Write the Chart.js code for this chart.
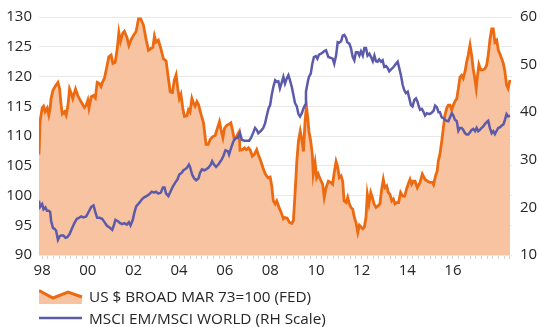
<!DOCTYPE html>
<html>
<head>
<meta charset="utf-8">
<script src="https://cdn.jsdelivr.net/npm/chart.js@4"></script>
<style>
  html, body { margin: 0; padding: 0; background: #fff; }
  #wrap { position: relative; width: 540px; height: 327px; font-family: "Open Sans", sans-serif; color: #262626; }
  #chart { position: absolute; left: 0; top: 0; }
  .lg { position: absolute; left: 39px; height: 16px; }
  .lg svg { position: absolute; left: 0; top: 0; }
  .lg span { position: absolute; left: 50px; top: -3px; font-size: 15.3px; line-height: 20px; white-space: nowrap; }
</style>
</head>
<body>
<div id="wrap">
  <canvas id="chart" width="540" height="327"></canvas>
  <div class="lg" style="top:289px">
    <svg width="44" height="16"><polygon points="0,1.5 14,9 29,3 43,8 43,15 0,15" fill="#f8c3a0"/><polyline points="0,1.5 14,9 29,3 43,8" fill="none" stroke="#ec6a10" stroke-width="3"/></svg>
    <span>US $ BROAD MAR 73=100 (FED)</span>
  </div>
  <div class="lg" style="top:311px">
    <svg width="44" height="16"><line x1="0" y1="7" x2="43" y2="7" stroke="#5c5aab" stroke-width="2.5"/></svg>
    <span>MSCI EM/MSCI WORLD (RH Scale)</span>
  </div>
</div>
<script>
// US $ broad index (left scale), decimal years
const usdDates = [1997.86, 1997.91, 1998.00, 1998.06, 1998.13, 1998.22, 1998.29, 1998.35, 1998.39, 1998.47,
  1998.58, 1998.69, 1998.76, 1998.83, 1998.88, 1998.98, 1999.05, 1999.13, 1999.20, 1999.27,
  1999.34, 1999.46, 1999.56, 1999.71, 1999.85, 1999.93, 2000.00, 2000.05, 2000.15, 2000.25,
  2000.33, 2000.41, 2000.51, 2000.58, 2000.66, 2000.73, 2000.83, 2000.92, 2001.02, 2001.10,
  2001.20, 2001.29, 2001.36, 2001.43, 2001.53, 2001.60, 2001.71, 2001.80, 2001.90, 2002.00,
  2002.12, 2002.22, 2002.32, 2002.44, 2002.56, 2002.66, 2002.76, 2002.85, 2002.92, 2002.99,
  2003.09, 2003.20, 2003.31, 2003.43, 2003.53, 2003.61, 2003.71, 2003.79, 2003.87, 2003.94,
  2004.01, 2004.08, 2004.16, 2004.23, 2004.34, 2004.41, 2004.48, 2004.56, 2004.63, 2004.70,
  2004.78, 2004.85, 2004.95, 2005.07, 2005.18, 2005.28, 2005.36, 2005.48, 2005.58, 2005.68,
  2005.77, 2005.84, 2005.92, 2005.99, 2006.09, 2006.20, 2006.27, 2006.34, 2006.42, 2006.50,
  2006.57, 2006.63, 2006.67, 2006.77, 2006.86, 2006.95, 2007.04, 2007.12, 2007.21, 2007.30,
  2007.40, 2007.47, 2007.58, 2007.67, 2007.77, 2007.89, 2007.99, 2008.06, 2008.13, 2008.21,
  2008.28, 2008.38, 2008.47, 2008.57, 2008.64, 2008.74, 2008.83, 2008.94, 2009.01, 2009.08,
  2009.16, 2009.23, 2009.31, 2009.38, 2009.45, 2009.52, 2009.58, 2009.64, 2009.69, 2009.77,
  2009.84, 2009.88, 2009.96, 2010.03, 2010.10, 2010.19, 2010.29, 2010.36, 2010.44, 2010.54,
  2010.65, 2010.73, 2010.79, 2010.88, 2010.95, 2011.02, 2011.10, 2011.17, 2011.23, 2011.32,
  2011.39, 2011.46, 2011.53, 2011.61, 2011.68, 2011.75, 2011.83, 2011.90, 2011.97, 2012.05,
  2012.12, 2012.19, 2012.25, 2012.32, 2012.40, 2012.47, 2012.54, 2012.63, 2012.73, 2012.80,
  2012.88, 2012.95, 2013.02, 2013.10, 2013.17, 2013.24, 2013.32, 2013.39, 2013.46, 2013.54,
  2013.62, 2013.71, 2013.80, 2013.89, 2013.97, 2014.04, 2014.12, 2014.19, 2014.26, 2014.34,
  2014.44, 2014.48, 2014.56, 2014.66, 2014.78, 2014.89, 2014.99, 2015.09, 2015.15, 2015.24,
  2015.31, 2015.36, 2015.43, 2015.51, 2015.58, 2015.65, 2015.73, 2015.80, 2015.87, 2015.95,
  2016.02, 2016.09, 2016.17, 2016.24, 2016.31, 2016.38, 2016.45, 2016.53, 2016.60, 2016.67,
  2016.75, 2016.82, 2016.89, 2016.97, 2017.02, 2017.08, 2017.14, 2017.22, 2017.30, 2017.40,
  2017.48, 2017.55, 2017.62, 2017.70, 2017.77, 2017.84, 2017.92, 2017.99, 2018.06, 2018.14,
  2018.21, 2018.28, 2018.35, 2018.42, 2018.50];
const usdValues = [106.9, 112.5, 114.7, 115.0, 114.1, 114.7, 113.5, 114.7, 116.3, 117.7,
  118.4, 119.0, 118.0, 115.2, 113.7, 114.1, 113.5, 115.2, 117.9, 117.2,
  116.3, 117.9, 116.8, 115.7, 114.8, 115.2, 116.0, 114.7, 116.6, 116.8,
  116.4, 119.0, 118.8, 118.3, 119.2, 119.7, 121.6, 123.3, 123.6, 122.2,
  122.4, 124.7, 127.4, 125.9, 127.3, 127.6, 126.6, 125.2, 126.2, 126.9,
  127.6, 129.7, 129.7, 128.6, 126.1, 124.4, 124.7, 124.9, 126.8, 125.8,
  126.1, 124.7, 123.0, 122.6, 119.7, 117.4, 117.3, 119.4, 120.3, 118.0,
  116.3, 117.0, 114.7, 113.3, 113.4, 114.4, 114.0, 116.3, 115.5, 115.0,
  115.8, 115.3, 113.8, 112.2, 108.6, 108.6, 109.4, 109.9, 110.1, 111.3,
  112.4, 111.0, 109.7, 111.3, 111.8, 112.0, 112.2, 111.0, 109.4, 109.7,
  110.3, 110.7, 107.6, 107.7, 108.0, 107.7, 108.0, 107.6, 106.6, 106.9,
  107.7, 106.9, 105.8, 104.7, 103.7, 103.0, 103.1, 101.6, 99.1, 98.6,
  99.1, 98.0, 97.2, 96.1, 96.3, 96.2, 95.5, 95.3, 95.8, 100.2,
  105.8, 109.1, 110.8, 109.4, 107.4, 112.4, 115.0, 113.0, 110.8, 109.1,
  106.9, 103.6, 105.5, 103.0, 103.6, 102.7, 101.9, 99.7, 101.3, 102.4,
  102.2, 101.9, 103.6, 105.7, 104.8, 103.0, 103.3, 102.4, 99.1, 98.8,
  99.7, 98.6, 98.0, 97.7, 96.3, 95.5, 93.8, 95.0, 94.7, 94.4,
  94.7, 96.3, 100.2, 98.6, 100.5, 99.7, 98.6, 98.0, 98.3, 98.6,
  101.1, 102.7, 101.3, 101.6, 100.5, 100.2, 99.1, 99.4, 98.6, 98.8,
  98.8, 100.5, 99.9, 99.9, 101.1, 101.9, 102.7, 101.9, 102.4, 102.4,
  101.3, 101.6, 102.2, 103.6, 102.7, 102.4, 102.2, 102.2, 101.8, 103.3,
  104.1, 105.8, 106.9, 109.1, 111.3, 113.5, 114.7, 115.2, 115.2, 114.4,
  115.2, 115.8, 116.3, 118.0, 119.9, 120.2, 119.7, 120.8, 122.4, 123.6,
  125.3, 123.6, 121.3, 119.4, 118.0, 120.2, 122.0, 121.1, 121.1, 121.3,
  121.9, 123.6, 126.1, 128.0, 128.0, 125.8, 126.1, 124.4, 123.8, 123.0,
  122.2, 120.8, 118.6, 118.0, 119.4];

// MSCI EM / MSCI World ratio (right scale)
const emDates = [1997.86, 1997.91, 1998.00, 1998.06, 1998.14, 1998.21, 1998.29, 1998.35, 1998.39, 1998.47,
  1998.54, 1998.61, 1998.69, 1998.76, 1998.83, 1998.93, 1999.02, 1999.10, 1999.20, 1999.30,
  1999.41, 1999.52, 1999.61, 1999.71, 1999.81, 1999.93, 2000.05, 2000.15, 2000.25, 2000.33,
  2000.41, 2000.51, 2000.63, 2000.73, 2000.83, 2000.95, 2001.07, 2001.14, 2001.21, 2001.32,
  2001.42, 2001.50, 2001.60, 2001.71, 2001.80, 2001.87, 2001.97, 2002.04, 2002.12, 2002.26,
  2002.37, 2002.47, 2002.59, 2002.70, 2002.80, 2002.91, 2002.99, 2003.09, 2003.20, 2003.29,
  2003.36, 2003.43, 2003.53, 2003.64, 2003.72, 2003.83, 2003.93, 2004.01, 2004.12, 2004.19,
  2004.26, 2004.34, 2004.43, 2004.48, 2004.57, 2004.66, 2004.75, 2004.85, 2004.92, 2005.00,
  2005.10, 2005.18, 2005.28, 2005.39, 2005.45, 2005.53, 2005.62, 2005.72, 2005.80, 2005.87,
  2005.94, 2006.03, 2006.14, 2006.19, 2006.28, 2006.38, 2006.48, 2006.57, 2006.67, 2006.75,
  2006.86, 2006.97, 2007.07, 2007.15, 2007.24, 2007.33, 2007.40, 2007.47, 2007.59, 2007.69,
  2007.77, 2007.85, 2007.92, 2007.99, 2008.06, 2008.13, 2008.21, 2008.28, 2008.35, 2008.42,
  2008.50, 2008.57, 2008.64, 2008.72, 2008.79, 2008.86, 2008.94, 2009.01, 2009.08, 2009.16,
  2009.23, 2009.30, 2009.38, 2009.45, 2009.52, 2009.56, 2009.64, 2009.69, 2009.77, 2009.84,
  2009.91, 2009.99, 2010.06, 2010.13, 2010.22, 2010.28, 2010.35, 2010.44, 2010.54, 2010.65,
  2010.73, 2010.80, 2010.88, 2010.95, 2011.02, 2011.10, 2011.17, 2011.24, 2011.32, 2011.37,
  2011.46, 2011.53, 2011.61, 2011.68, 2011.75, 2011.83, 2011.90, 2011.97, 2012.05, 2012.12,
  2012.19, 2012.26, 2012.34, 2012.41, 2012.49, 2012.56, 2012.63, 2012.70, 2012.77, 2012.85,
  2012.92, 2012.99, 2013.07, 2013.14, 2013.21, 2013.29, 2013.36, 2013.43, 2013.51, 2013.58,
  2013.65, 2013.72, 2013.80, 2013.87, 2013.94, 2014.02, 2014.09, 2014.16, 2014.23, 2014.31,
  2014.38, 2014.45, 2014.49, 2014.56, 2014.64, 2014.71, 2014.78, 2014.86, 2014.96, 2015.05,
  2015.15, 2015.22, 2015.30, 2015.37, 2015.43, 2015.51, 2015.58, 2015.65, 2015.73, 2015.80,
  2015.87, 2015.95, 2016.02, 2016.09, 2016.17, 2016.24, 2016.31, 2016.38, 2016.45, 2016.53,
  2016.60, 2016.67, 2016.75, 2016.82, 2016.89, 2016.97, 2017.04, 2017.11, 2017.18, 2017.26,
  2017.33, 2017.40, 2017.48, 2017.55, 2017.62, 2017.70, 2017.77, 2017.84, 2017.92, 2017.99,
  2018.06, 2018.14, 2018.21, 2018.28, 2018.35, 2018.42, 2018.50];
const emValues = [21.4, 20.1, 20.7, 19.6, 20.0, 19.3, 19.3, 19.0, 17.2, 15.7,
  15.5, 15.1, 13.2, 13.9, 14.1, 14.1, 13.6, 13.75, 14.4, 15.5,
  16.7, 17.6, 17.8, 18.1, 17.9, 18.1, 19.2, 20.1, 20.4, 19.0,
  17.8, 17.8, 17.6, 16.9, 16.2, 15.8, 15.3, 16.2, 17.4, 17.1,
  16.7, 16.5, 16.7, 16.4, 16.9, 16.2, 17.4, 18.9, 20.2, 21.0,
  21.7, 22.1, 22.4, 22.8, 23.3, 23.1, 23.3, 22.9, 23.1, 24.2,
  24.2, 22.9, 22.4, 23.5, 24.3, 25.2, 25.9, 26.9, 27.3, 27.8,
  28.0, 28.3, 29.0, 28.5, 26.9, 26.1, 25.7, 26.1, 27.3, 28.0,
  27.8, 28.0, 28.3, 29.0, 29.7, 29.0, 28.5, 29.0, 29.6, 30.1,
  30.8, 32.0, 31.8, 31.1, 32.5, 33.9, 34.6, 34.6, 35.6, 34.2,
  34.0, 34.0, 34.0, 34.6, 35.6, 36.7, 36.3, 35.6, 36.1, 36.7,
  37.7, 39.4, 40.8, 41.5, 43.6, 45.3, 46.7, 46.4, 46.5, 45.0,
  46.25, 47.4, 46.0, 47.1, 47.8, 46.7, 45.3, 43.6, 41.9, 41.2,
  39.6, 39.1, 39.8, 40.8, 41.5, 44.3, 46.4, 47.4, 48.1, 50.2,
  51.6, 51.8, 51.25, 52.1, 52.3, 52.5, 52.8, 53.0, 51.6, 51.4,
  51.25, 50.2, 51.9, 54.7, 54.6, 54.9, 56.1, 56.25, 55.6, 54.7,
  54.4, 53.5, 51.6, 50.9, 52.6, 52.6, 51.9, 52.8, 51.9, 53.5,
  53.5, 51.9, 52.3, 51.6, 50.7, 51.9, 50.7, 50.6, 51.1, 50.6,
  50.9, 49.5, 49.7, 49.3, 48.6, 49.0, 49.3, 49.7, 50.2, 50.6,
  49.2, 47.8, 45.7, 44.6, 44.0, 44.3, 42.9, 41.5, 41.2, 42.6,
  42.9, 42.2, 41.5, 40.5, 40.7, 40.1, 39.3, 39.8, 39.6, 39.8,
  40.3, 41.4, 41.0, 40.0, 40.0, 38.9, 38.75, 38.4, 38.2, 38.1,
  38.9, 39.8, 39.3, 38.4, 38.1, 36.1, 36.7, 36.7, 36.3, 35.6,
  35.3, 35.3, 35.8, 36.3, 36.5, 36.0, 36.7, 36.0, 36.3, 36.7,
  37.0, 37.5, 37.9, 38.2, 36.7, 35.6, 36.0, 35.4, 36.1, 36.7,
  36.8, 37.2, 37.4, 38.4, 39.6, 39.1, 39.3];

const xMin = 1997.86;
const xMax = 2018.59;
const lastLabelYear = 2016;
const leftTicks = [90, 130, 5];   // min, max, step
const rightTicks = [10, 60, 10];

const tickFont = { family: 'Open Sans', size: 15 };
const textColor = '#262626';

const ctx = document.getElementById('chart');
new Chart(ctx, {
    type: 'line',
    data: {
        datasets: [{
            label: 'MSCI EM/MSCI WORLD (RH Scale)',
            data: emDates.map((d, i) => ({ x: d, y: emValues[i] })),
            yAxisID: 'y1',
            borderColor: '#5c5aab',
            borderWidth: 2.5,
            pointRadius: 0,
            tension: 0,
            fill: false,
            order: 0
        }, {
            label: 'US $ BROAD MAR 73=100 (FED)',
            data: usdDates.map((d, i) => ({ x: d, y: usdValues[i] })),
            yAxisID: 'y',
            borderColor: '#ec6a10',
            backgroundColor: '#f8c3a0',
            borderWidth: 2.8,
            pointRadius: 0,
            tension: 0,
            fill: 'start',
            order: 1
        }]
    },
    options: {
        responsive: false,
        animation: false,
        layout: { padding: { top: 1, left: 0, right: 0, bottom: 0 } },
        plugins: { legend: { display: false }, tooltip: { enabled: false } },
        scales: {
            x: {
                type: 'linear',
                min: xMin,
                max: xMax,
                border: { display: false },
                grid: { drawOnChartArea: false, drawTicks: true, tickLength: 4, color: '#d4d4d4' },
                ticks: {
                    stepSize: 0.25,
                    includeBounds: false,
                    autoSkip: false,
                    maxRotation: 0,
                    padding: 3,
                    font: tickFont,
                    color: textColor,
                    callback: function (value) {
                        const yr = Math.round(value);
                        if (Math.abs(value - yr) > 0.01 || yr % 2 !== 0 || yr > lastLabelYear) return '';
                        return String(yr % 100).padStart(2, '0');
                    }
                },
                afterFit: function (scale) { scale.height = 72; }
            },
            y: {
                position: 'left',
                min: leftTicks[0],
                max: leftTicks[1],
                border: { display: false },
                grid: { color: '#e9e9e9', drawTicks: false },
                ticks: { stepSize: leftTicks[2], padding: 7, font: tickFont, color: textColor },
                afterFit: function (scale) { scale.width = 39; }
            },
            y1: {
                position: 'right',
                min: rightTicks[0],
                max: rightTicks[1],
                border: { display: false },
                grid: { drawOnChartArea: false, drawTicks: false },
                ticks: { stepSize: rightTicks[2], padding: 8, font: tickFont, color: textColor },
                afterFit: function (scale) { scale.width = 28; }
            }
        }
    }
});
</script>
</body>
</html>
